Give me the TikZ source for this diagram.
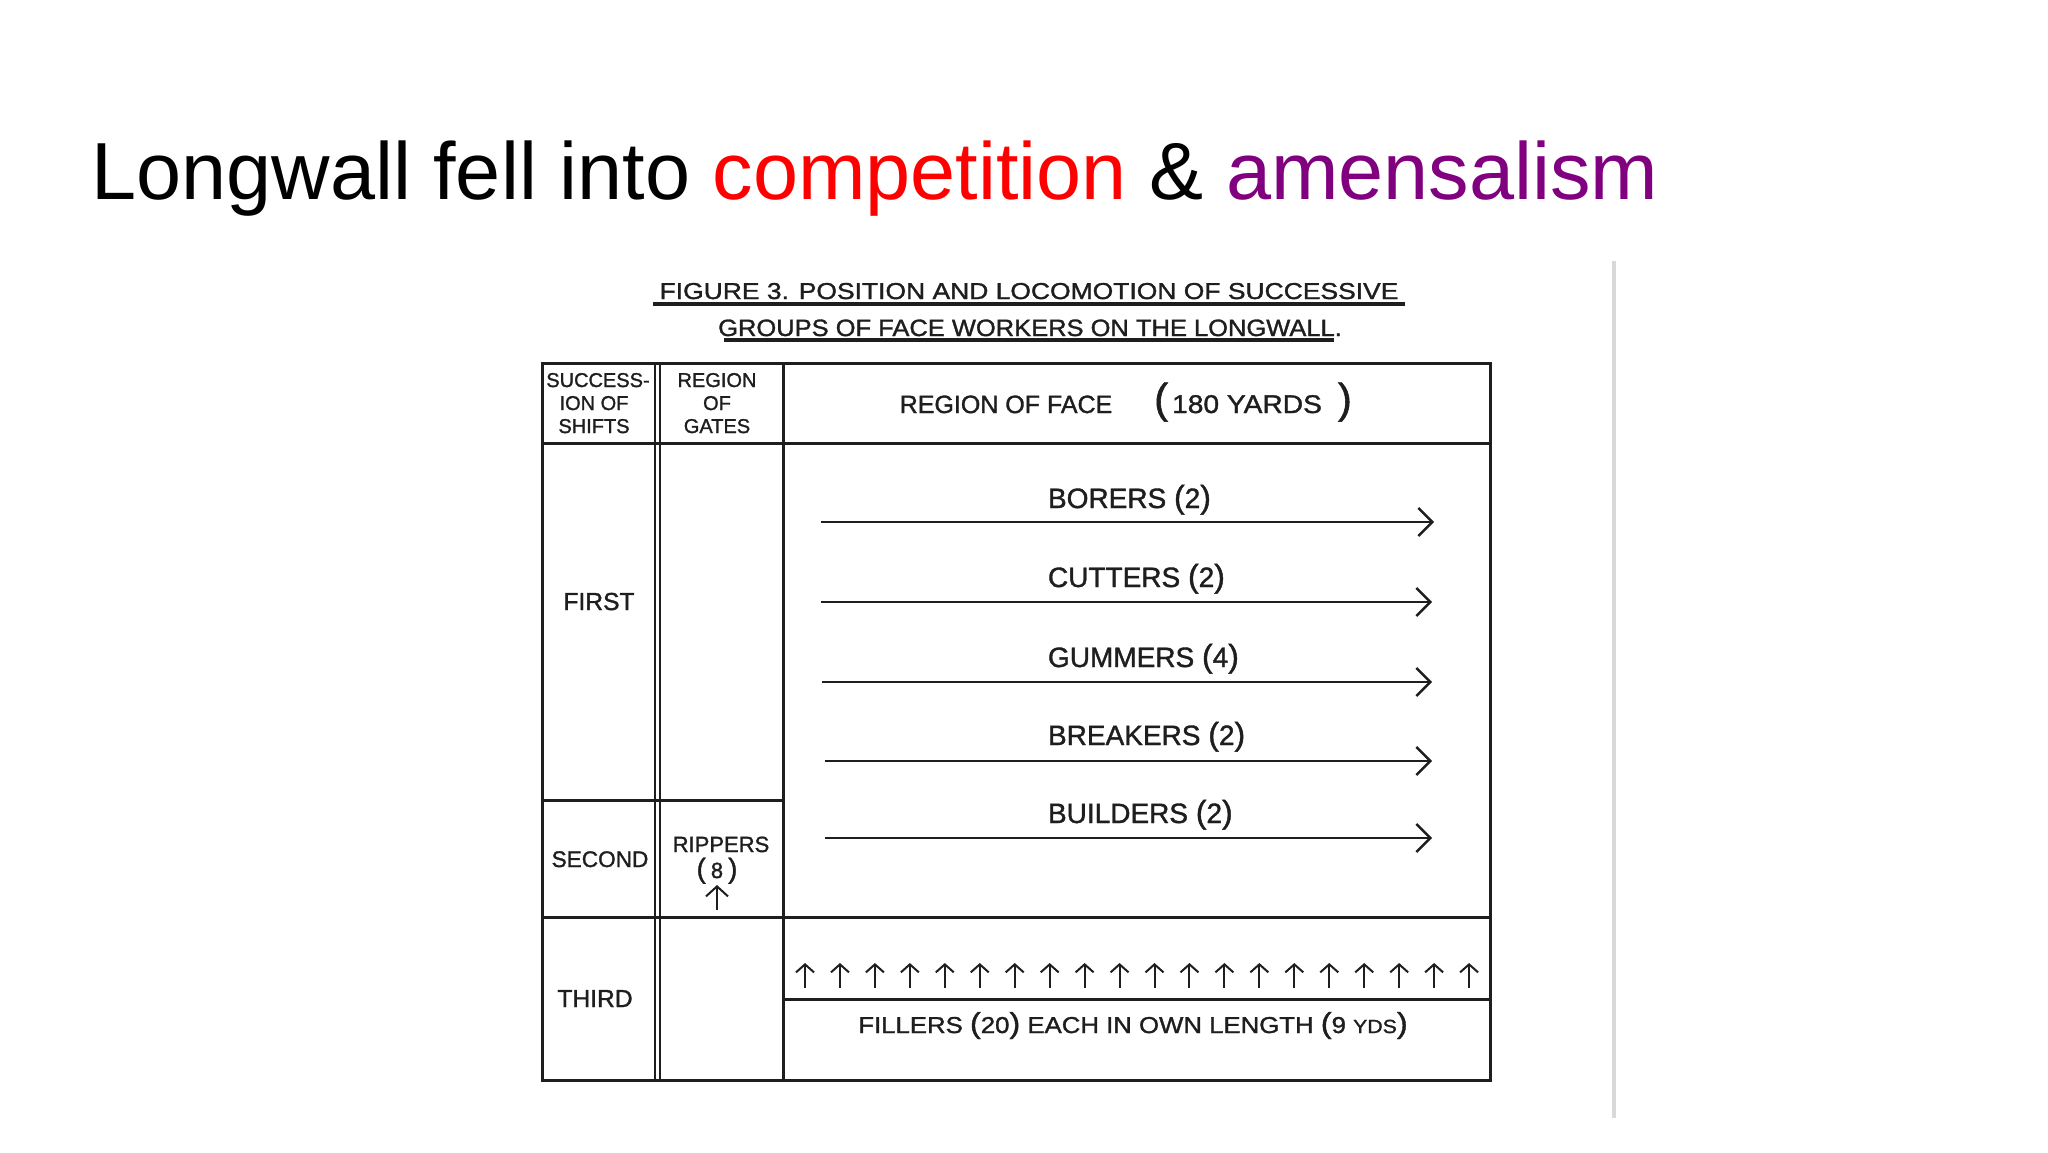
\documentclass[tikz,border=0pt]{standalone}
\usepackage{fontspec}
\setmainfont{Liberation Sans}
\newfontfamily\lettering[FakeBold=1.3]{Liberation Sans}
\usepackage{graphicx}
\usetikzlibrary{arrows.meta}
\definecolor{ink}{HTML}{1E1E1E}
\definecolor{tred}{HTML}{FF0000}
\definecolor{tpurple}{HTML}{800080}
\definecolor{divider}{HTML}{D9D9D9}
\newcommand\myfs[1]{\fontsize{#1}{#1}\selectfont}
\newcommand\lf[1]{\lettering\fontsize{#1}{#1}\selectfont}
\newcommand\bigpar[2][17pt]{{\fontsize{#1}{#1}\selectfont #2}}
\begin{document}
\begin{tikzpicture}[x=0.5pt,y=-0.5pt,
  txt/.style={inner sep=0pt, outer sep=0pt, text=ink, anchor=base},
  lab/.style={inner sep=0pt, outer sep=0pt, text=ink, anchor=base west, font=\lf{14pt}},
  border/.style={draw=ink, line width=1.5pt},
  dbl/.style={draw=ink, line width=1pt},
  uline/.style={draw=ink, line width=1.6pt},
  mover/.style={draw=ink, line width=1.2pt, -{Straight Barb[length=7pt,width=14pt,line width=1.2pt]}},
  upmove/.style={draw=ink, line width=1pt, -{Straight Barb[length=4pt,width=9pt,line width=1pt]}},
  ripmove/.style={draw=ink, line width=1pt, -{Straight Barb[length=5pt,width=11pt,line width=1pt]}},
]
\fill[white] (0,0) rectangle (2048,1152);
\useasboundingbox (0,0) rectangle (2048,1152);

% slide title
\node[anchor=base west, inner sep=0pt, font=\myfs{40.5pt}] (title) at (91,199)
  {Longwall fell into \textcolor{tred}{competition} \& \textcolor{tpurple}{amensalism}};

% grey divider
\coordinate (dtop) at (1614,261);
\coordinate (dbot) at (1614,1118);
\draw[divider, line width=2pt] (dtop) -- (dbot);

% figure heading
\node[txt, font=\lf{11.5pt}] (head1) at (1029,299)
  {\scalebox{1.15}[1]{FIGURE 3. POSITION AND LOCOMOTION OF SUCCESSIVE}};
\node[txt, font=\lf{11.8pt}] (head2) at (1030,336)
  {\scalebox{1.08}[1]{GROUPS OF FACE WORKERS ON THE LONGWALL.}};
\draw[uline] (653,304) -- (1405,304);
\draw[uline] (724,340) -- (1334,340);

% table frame
\draw[border] (542,363) rectangle (1490,1080);
\draw[border] (542,443) -- (1490,443);
\draw[border] (542,917) -- (1490,917);
\draw[border] (542,800) -- (783,800);
\draw[border] (783,999) -- (1490,999);
\draw[dbl] (655,363) -- (655,1080);
\draw[dbl] (660,363) -- (660,1080);
\draw[border] (783,363) -- (783,1080);

% column headers
\node[txt, font=\lf{10pt}] (s1) at (598,387) {SUCCESS-};
\node[txt, font=\lf{10pt}] (s2) at (594,410) {ION OF};
\node[txt, font=\lf{10pt}] (s3) at (594,433) {SHIFTS};
\node[txt, font=\lf{10pt}] (g1) at (717,387) {REGION};
\node[txt, font=\lf{10pt}] (g2) at (717,410) {OF};
\node[txt, font=\lf{10pt}] (g3) at (717,433) {GATES};
\node[txt, font=\lf{12.5pt}] (face) at (1006,413) {REGION OF FACE};
\node[txt, font=\lf{12.8pt}] (yards) at (1253,413)
  {\bigpar[21pt]{(}\hspace{2pt}\scalebox{1.1}[1]{180 YARDS}\hspace{8pt}\bigpar[21pt]{)}};

% row labels
\node[txt, font=\lf{12.3pt}] (first) at (599,610) {FIRST};
\node[txt, font=\lf{11.3pt}] (second) at (600,867) {SECOND};
\node[txt, font=\lf{12.3pt}] (third) at (595,1007) {THIRD};

% rippers
\node[txt, font=\lf{11pt}] (rip) at (721,852) {RIPPERS};
\node[txt, font=\lf{11pt}] (rip8) at (717,878)
  {\bigpar[14pt]{(}\hspace{2.5pt}8\hspace{2.5pt}\bigpar[14pt]{)}};
\coordinate (ripA) at (717,910);
\coordinate (ripB) at (717,885);
\draw[ripmove] (ripA) -- (ripB);

% face workers moving along the face
\node[lab] (borers) at (1048,508) {BORERS \bigpar[16pt]{(}2\bigpar[16pt]{)}};
\node[lab] (cutters) at (1048,587) {CUTTERS \bigpar[16pt]{(}2\bigpar[16pt]{)}};
\node[lab] (gummers) at (1048,667) {GUMMERS \bigpar[16pt]{(}4\bigpar[16pt]{)}};
\node[lab] (breakers) at (1048,745) {BREAKERS \bigpar[16pt]{(}2\bigpar[16pt]{)}};
\node[lab] (builders) at (1048,823) {BUILDERS \bigpar[16pt]{(}2\bigpar[16pt]{)}};

\coordinate (boA) at (821,522);  \coordinate (boB) at (1434,522);
\coordinate (cuA) at (821,602);  \coordinate (cuB) at (1432,602);
\coordinate (guA) at (822,682);  \coordinate (guB) at (1432,682);
\coordinate (brA) at (825,761);  \coordinate (brB) at (1432,761);
\coordinate (buA) at (825,838);  \coordinate (buB) at (1432,838);
\draw[mover] (boA) -- (boB);
\draw[mover] (cuA) -- (cuB);
\draw[mover] (guA) -- (guB);
\draw[mover] (brA) -- (brB);
\draw[mover] (buA) -- (buB);

% fillers
\foreach \i in {0,...,19} {
  \coordinate (fa\i) at ({805+34.95*\i},988);
  \coordinate (fb\i) at ({805+34.95*\i},963);
  \draw[upmove] (fa\i) -- (fb\i);
}
\node[txt, font=\lf{11.5pt}] (fillers) at (1133,1033)
  {\scalebox{1.12}[1]{FILLERS \bigpar[14.5pt]{(}20\bigpar[14.5pt]{)} EACH IN OWN LENGTH \bigpar[14.5pt]{(}9 {\lf{9.5pt}YDS}\bigpar[14.5pt]{)}}};
\end{tikzpicture}
\end{document}
